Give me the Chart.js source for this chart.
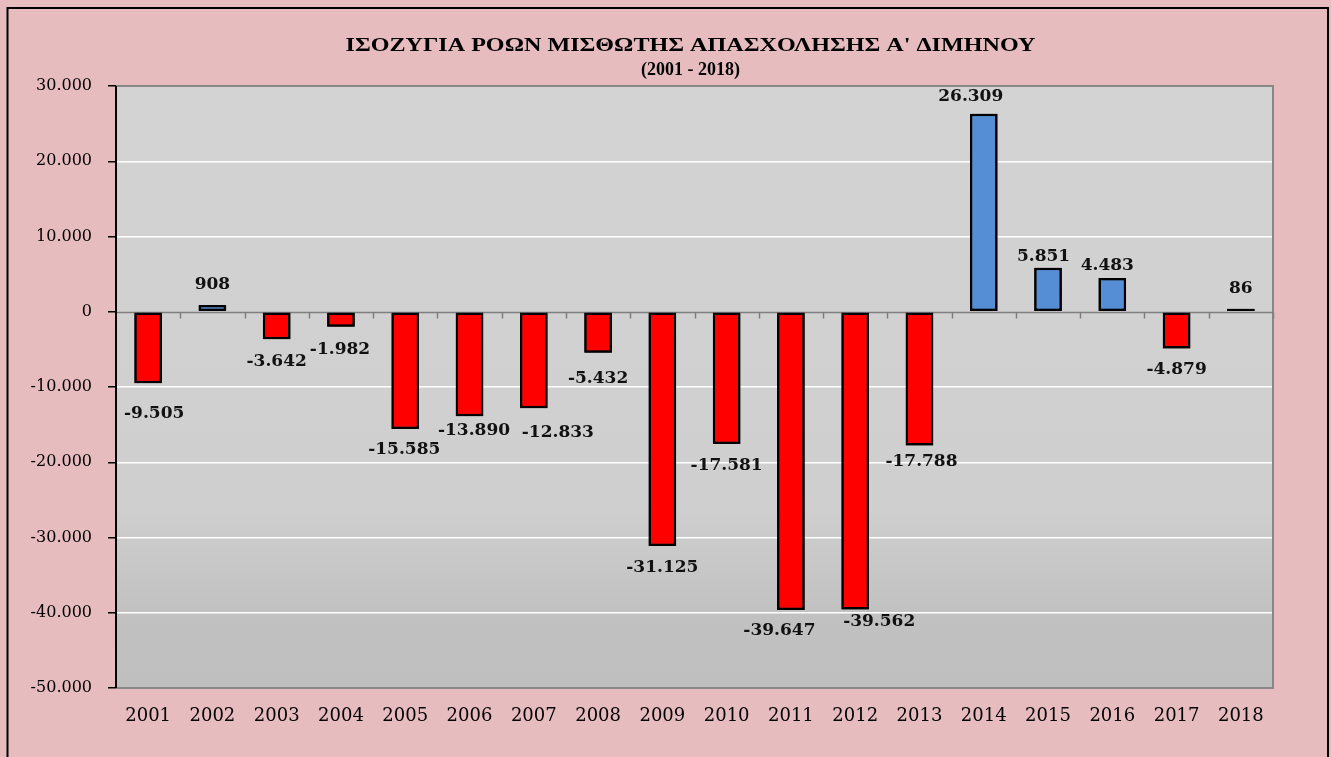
<!DOCTYPE html>
<html><head><meta charset="utf-8">
<script src="https://cdn.jsdelivr.net/npm/chart.js@4.4.1/dist/chart.umd.min.js"></script>
<style>html,body{margin:0;padding:0;background:#fff;}#wrap{width:1331px;height:757px;position:relative;}</style>
</head><body><div id="wrap"><canvas id="c" width="1331" height="757"></canvas></div>
<script>
const categories = ['2001','2002','2003','2004','2005','2006','2007','2008','2009','2010','2011','2012','2013','2014','2015','2016','2017','2018'];
const values = [-9505, 908, -3642, -1982, -15585, -13890, -12833, -5432, -31125, -17581, -39647, -39562, -17788, 26309, 5851, 4483, -4879, 86];
const titleLines = ["ΙΣΟΖΥΓΙΑ ΡΟΩΝ ΜΙΣΘΩΤΗΣ ΑΠΑΣΧΟΛΗΣΗΣ Α' ΔΙΜΗΝΟΥ", "(2001 - 2018)"];
const yMin = -50000, yMax = 30000, yStep = 10000;

function fmt(v){
  const s = Math.abs(v).toString().replace(/\B(?=(\d{3})+(?!\d))/g, '.');
  return (v < 0 ? '-' : '') + s;
}

const bgPlugin = {
  id: 'bg',
  beforeDraw(chart){
    const ctx = chart.ctx, a = chart.chartArea;
    ctx.save();
    ctx.fillStyle = '#E6BCBE';
    ctx.fillRect(0,0,chart.width,chart.height);
    ctx.strokeStyle = '#000'; ctx.lineWidth = 2;
    ctx.strokeRect(7.5, 8, 1320.5, 760);
    const g = ctx.createLinearGradient(0, a.top, 0, a.bottom);
    g.addColorStop(0, '#D3D3D3');
    g.addColorStop(0.7, '#CFCFCF');
    g.addColorStop(0.88, '#C1C1C1');
    g.addColorStop(1, '#BFBFBF');
    ctx.fillStyle = g;
    ctx.fillRect(a.left, a.top, a.right-a.left, a.bottom-a.top);
    // title
    ctx.fillStyle = '#000';
    ctx.textAlign = 'center'; ctx.textBaseline = 'middle';
    const cx = (a.left + a.right)/2;
    ctx.font = 'bold 19px "Liberation Serif", "DejaVu Serif", serif';
    const w0 = ctx.measureText(titleLines[0]).width;
    const sx = 690 / w0;
    ctx.save();
    ctx.translate(cx - 4, 46);
    ctx.scale(sx, 1);
    ctx.fillText(titleLines[0], 0, 0);
    ctx.restore();
    ctx.font = 'bold 18px "Liberation Serif", "DejaVu Serif", serif';
    ctx.fillText(titleLines[1], cx - 4, 70);
    ctx.restore();
  },
  afterDatasetsDraw(chart, args, opts){
    const ctx = chart.ctx, a = chart.chartArea;
    const y = chart.scales.y;
    ctx.save();
    // plot border (gray) top/right/bottom
    ctx.strokeStyle = '#888'; ctx.lineWidth = 2;
    ctx.beginPath();
    ctx.moveTo(a.left, a.top); ctx.lineTo(a.right, a.top); ctx.lineTo(a.right, a.bottom); ctx.lineTo(a.left, a.bottom);
    ctx.stroke();
    // zero line with tick marks
    const y0 = Math.round(y.getPixelForValue(0)) + 0.5;
    ctx.lineWidth = 1.5; ctx.strokeStyle = '#7F7F7F';
    ctx.beginPath(); ctx.moveTo(a.left, y0); ctx.lineTo(a.right, y0); ctx.stroke();
    const w = (a.right - a.left) / categories.length;
    ctx.beginPath();
    for (let i = 1; i <= categories.length; i++){
      const xx = Math.round(a.left + i*w) + 0.5;
      ctx.moveTo(xx, y0); ctx.lineTo(xx, y0 + 6);
    }
    ctx.stroke();
    // left axis line
    ctx.strokeStyle = '#000'; ctx.lineWidth = 2;
    ctx.beginPath(); ctx.moveTo(a.left, a.top); ctx.lineTo(a.left, a.bottom); ctx.stroke();
    // redraw bars over zero line
    chart.getDatasetMeta(0).data.forEach(b => b.draw(ctx));
    // data labels (nudged like the original's manually placed labels)
    ctx.fillStyle = '#111';
    ctx.font = 'bold 17px "DejaVu Serif", serif';
    ctx.textAlign = 'center'; ctx.textBaseline = 'middle';
    const nudges = opts.nudges || [];
    chart.getDatasetMeta(0).data.forEach((b, i) => {
      const v = values[i];
      const n = nudges[i] || [0, v >= 0 ? -16 : 21];
      ctx.fillText(fmt(v), b.x + n[0], b.y + n[1]);
    });
    ctx.restore();
  }
};

new Chart(document.getElementById('c'), {
  type: 'bar',
  data: {
    labels: categories,
    datasets: [{
      data: values,
      backgroundColor: values.map(v => v >= 0 ? '#558ED5' : '#FF0000'),
      borderColor: '#000',
      borderWidth: 2.5,
      borderSkipped: false,
      minBarLength: 3,
      barPercentage: 0.43,
      categoryPercentage: 1.0
    }]
  },
  options: {
    responsive: false,
    animation: false,
    events: [],
    layout: { padding: { left: 0, top: 86, right: 58, bottom: 29 } },
    plugins: {
      legend: { display: false }, tooltip: { enabled: false }, title: { display: false },
      bg: {
        nudges: [[6,30],[0,-20],[0,22],[-1,23],[-1,21],[4.5,14],[24,24],[0,26],[0,22],[0,22],[-11.5,20],[24,12.5],[2,16],[-13,-17],[-4.5,-11],[-5,-12.5],[0,21],[0,-20]]
      }
    },
    scales: {
      x: {
        grid: { display: false },
        border: { display: false },
        ticks: { color: '#000', font: { family: '"DejaVu Serif", serif', size: 18 }, padding: 10, maxRotation: 0 },
        afterFit(s){ s.height = 40; }
      },
      y: {
        min: yMin, max: yMax,
        grid: {
          color: ctx => (ctx.tick && (ctx.tick.value === 0 || ctx.tick.value === yMin || ctx.tick.value === yMax)) ? 'rgba(0,0,0,0)' : '#FFFFFF',
          lineWidth: 1.5,
          tickColor: '#000',
          tickLength: 8,
          drawTicks: true
        },
        border: { display: false },
        ticks: {
          stepSize: yStep,
          color: '#000',
          padding: 16,
          font: { family: '"DejaVu Serif", serif', size: 16 },
          callback: v => fmt(v)
        },
        afterFit(s){ s.width = 116; }
      }
    }
  },
  plugins: [bgPlugin]
});
</script>
</body></html>
